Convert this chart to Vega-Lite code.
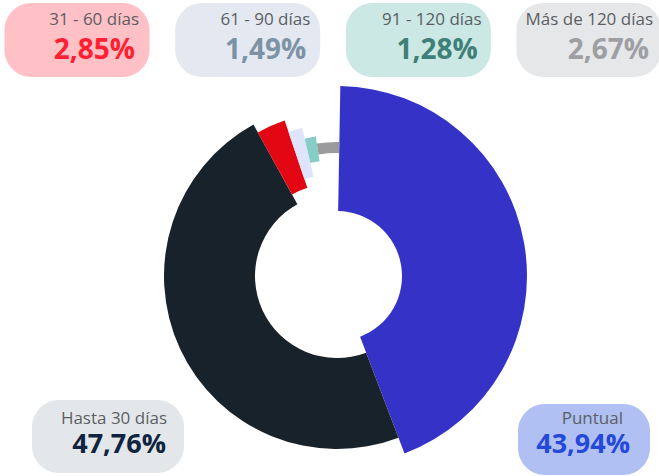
{
  "$schema": "https://vega.github.io/schema/vega-lite/v6.json",
  "width": 644,
  "height": 400,
  "padding": {"left": 15, "top": 76, "right": 0, "bottom": 0},
  "autosize": {"type": "none"},
  "background": "white",
  "config": {
    "view": {"stroke": null},
    "locale": {"number": {"decimal": ",", "thousands": ".", "grouping": [3], "currency": ["", " €"]}},
    "text": {"font": "Open Sans"}
  },
  "data": {
    "values": [
      {"categoria": "Puntual", "porcentaje": 0.4394},
      {"categoria": "Hasta 30 días", "porcentaje": 0.4776},
      {"categoria": "31 - 60 días", "porcentaje": 0.0285},
      {"categoria": "61 - 90 días", "porcentaje": 0.0149},
      {"categoria": "91 - 120 días", "porcentaje": 0.0128},
      {"categoria": "Más de 120 días", "porcentaje": 0.0267}
    ]
  },
  "transform": [
    {"window": [{"op": "row_number", "as": "orden"}], "frame": [null, 0]},
    {"stack": "porcentaje", "groupby": [], "sort": [{"field": "orden", "order": "ascending"}], "as": ["inicio", "final"]}
  ],
  "resolve": {"scale": {"x": "independent", "y": "independent", "color": "independent"}},
  "layer": [
    {
      "transform": [{"filter": {"field": "categoria", "equal": "Puntual"}}],
      "mark": {"type": "arc", "radius": 190, "radius2": 65, "color": "#3532c8"},
      "encoding": {
        "theta": {"field": "inicio", "type": "quantitative", "stack": null, "scale": {"domain": [0, 1], "range": [0.0175, 6.3007]}},
        "theta2": {"field": "final"}
      }
    },
    {
      "transform": [{"filter": {"field": "categoria", "equal": "Hasta 30 días"}}],
      "mark": {"type": "arc", "radius": 173, "radius2": 82, "color": "#18222b"},
      "encoding": {
        "theta": {"field": "inicio", "type": "quantitative", "stack": null, "scale": {"domain": [0, 1], "range": [0.0175, 6.3007]}},
        "theta2": {"field": "final"}
      }
    },
    {
      "transform": [{"filter": {"field": "categoria", "equal": "31 - 60 días"}}],
      "mark": {"type": "arc", "radius": 164, "radius2": 93, "color": "#e30613"},
      "encoding": {
        "theta": {"field": "inicio", "type": "quantitative", "stack": null, "scale": {"domain": [0, 1], "range": [0.0175, 6.3007]}},
        "theta2": {"field": "final"}
      }
    },
    {
      "transform": [{"filter": {"field": "categoria", "equal": "61 - 90 días"}}],
      "mark": {"type": "arc", "radius": 152, "radius2": 102, "color": "#dee4fb"},
      "encoding": {
        "theta": {"field": "inicio", "type": "quantitative", "stack": null, "scale": {"domain": [0, 1], "range": [0.0175, 6.3007]}},
        "theta2": {"field": "final"}
      }
    },
    {
      "transform": [{"filter": {"field": "categoria", "equal": "91 - 120 días"}}],
      "mark": {"type": "arc", "radius": 141, "radius2": 116, "color": "#85cdc6"},
      "encoding": {
        "theta": {"field": "inicio", "type": "quantitative", "stack": null, "scale": {"domain": [0, 1], "range": [0.0175, 6.3007]}},
        "theta2": {"field": "final"}
      }
    },
    {
      "transform": [{"filter": {"field": "categoria", "equal": "Más de 120 días"}}],
      "mark": {"type": "arc", "radius": 134, "radius2": 123, "color": "#9b9b9e"},
      "encoding": {
        "theta": {"field": "inicio", "type": "quantitative", "stack": null, "scale": {"domain": [0, 1], "range": [0.0175, 6.3007]}},
        "theta2": {"field": "final"}
      }
    },
    {
      "transform": [{"filter": {"field": "categoria", "oneOf": ["31 - 60 días", "61 - 90 días", "91 - 120 días", "Más de 120 días"]}}],
      "mark": {"type": "rect", "width": 145, "height": 74, "cornerRadius": 27},
      "encoding": {
        "x": {"field": "categoria", "type": "nominal", "axis": null, "scale": {"type": "point", "domain": ["31 - 60 días", "61 - 90 días", "91 - 120 días", "Más de 120 días"], "range": [62, 574], "padding": 0}},
        "y": {"field": "categoria", "type": "nominal", "axis": null, "scale": {"type": "point", "domain": ["31 - 60 días", "61 - 90 días", "91 - 120 días", "Más de 120 días"], "range": [-36, -36], "padding": 0}},
        "color": {"field": "categoria", "type": "nominal", "legend": null, "scale": {"domain": ["31 - 60 días", "61 - 90 días", "91 - 120 días", "Más de 120 días"], "range": ["#ffc0c6", "#e4e9f1", "#cbe8e4", "#e6e7e9"]}}
      }
    },
    {
      "transform": [{"filter": {"field": "categoria", "equal": "Hasta 30 días"}}],
      "mark": {"type": "rect", "width": 152, "height": 73, "cornerRadius": 27, "color": "#e4e7ea"},
      "encoding": {
        "x": {"field": "categoria", "type": "nominal", "axis": null, "scale": {"type": "point", "domain": ["Hasta 30 días"], "range": [93, 93], "padding": 0}},
        "y": {"field": "categoria", "type": "nominal", "axis": null, "scale": {"type": "point", "domain": ["Hasta 30 días"], "range": [360.5, 360.5], "padding": 0}}
      }
    },
    {
      "transform": [{"filter": {"field": "categoria", "equal": "Puntual"}}],
      "mark": {"type": "rect", "width": 132, "height": 71, "cornerRadius": 27, "color": "#b0c0f2"},
      "encoding": {
        "x": {"field": "categoria", "type": "nominal", "axis": null, "scale": {"type": "point", "domain": ["Puntual"], "range": [569, 569], "padding": 0}},
        "y": {"field": "categoria", "type": "nominal", "axis": null, "scale": {"type": "point", "domain": ["Puntual"], "range": [363.5, 363.5], "padding": 0}}
      }
    },
    {
      "transform": [{"filter": {"field": "categoria", "oneOf": ["31 - 60 días", "61 - 90 días", "91 - 120 días", "Más de 120 días"]}}],
      "mark": {"type": "text", "align": "right", "baseline": "alphabetic", "fontSize": 17, "color": "#5a5f64"},
      "encoding": {
        "x": {"field": "categoria", "type": "nominal", "axis": null, "scale": {"type": "point", "domain": ["31 - 60 días", "61 - 90 días", "91 - 120 días", "Más de 120 días"], "range": [124, 638], "padding": 0}},
        "y": {"field": "categoria", "type": "nominal", "axis": null, "scale": {"type": "point", "domain": ["31 - 60 días", "61 - 90 días", "91 - 120 días", "Más de 120 días"], "range": [-51, -51], "padding": 0}},
        "text": {"field": "categoria"}
      }
    },
    {
      "transform": [{"filter": {"field": "categoria", "oneOf": ["31 - 60 días", "61 - 90 días", "91 - 120 días", "Más de 120 días"]}}],
      "mark": {"type": "text", "align": "right", "baseline": "alphabetic", "fontSize": 28, "fontWeight": "bold"},
      "encoding": {
        "x": {"field": "categoria", "type": "nominal", "axis": null, "scale": {"type": "point", "domain": ["31 - 60 días", "61 - 90 días", "91 - 120 días", "Más de 120 días"], "range": [120, 634], "padding": 0}},
        "y": {"field": "categoria", "type": "nominal", "axis": null, "scale": {"type": "point", "domain": ["31 - 60 días", "61 - 90 días", "91 - 120 días", "Más de 120 días"], "range": [-17, -17], "padding": 0}},
        "text": {"field": "porcentaje", "type": "quantitative", "format": ".2%"},
        "color": {"field": "categoria", "type": "nominal", "legend": null, "scale": {"domain": ["31 - 60 días", "61 - 90 días", "91 - 120 días", "Más de 120 días"], "range": ["#ff1f33", "#7d93a5", "#3e8078", "#9d9fa3"]}}
      }
    },
    {
      "transform": [{"filter": {"field": "categoria", "oneOf": ["Hasta 30 días", "Puntual"]}}],
      "mark": {"type": "text", "align": "right", "baseline": "alphabetic", "fontSize": 17, "color": "#5a5f64"},
      "encoding": {
        "x": {"field": "categoria", "type": "nominal", "axis": null, "scale": {"type": "point", "domain": ["Hasta 30 días", "Puntual"], "range": [152, 608], "padding": 0}},
        "y": {"field": "categoria", "type": "nominal", "axis": null, "scale": {"type": "point", "domain": ["Hasta 30 días", "Puntual"], "range": [348, 348], "padding": 0}},
        "text": {"field": "categoria"}
      }
    },
    {
      "transform": [{"filter": {"field": "categoria", "oneOf": ["Hasta 30 días", "Puntual"]}}],
      "mark": {"type": "text", "align": "right", "baseline": "alphabetic", "fontSize": 27, "fontWeight": "bold"},
      "encoding": {
        "x": {"field": "categoria", "type": "nominal", "axis": null, "scale": {"type": "point", "domain": ["Hasta 30 días", "Puntual"], "range": [151, 615], "padding": 0}},
        "y": {"field": "categoria", "type": "nominal", "axis": null, "scale": {"type": "point", "domain": ["Hasta 30 días", "Puntual"], "range": [377, 377], "padding": 0}},
        "text": {"field": "porcentaje", "type": "quantitative", "format": ".2%"},
        "color": {"field": "categoria", "type": "nominal", "legend": null, "scale": {"domain": ["Hasta 30 días", "Puntual"], "range": ["#0f2440", "#2449d8"]}}
      }
    }
  ]
}
